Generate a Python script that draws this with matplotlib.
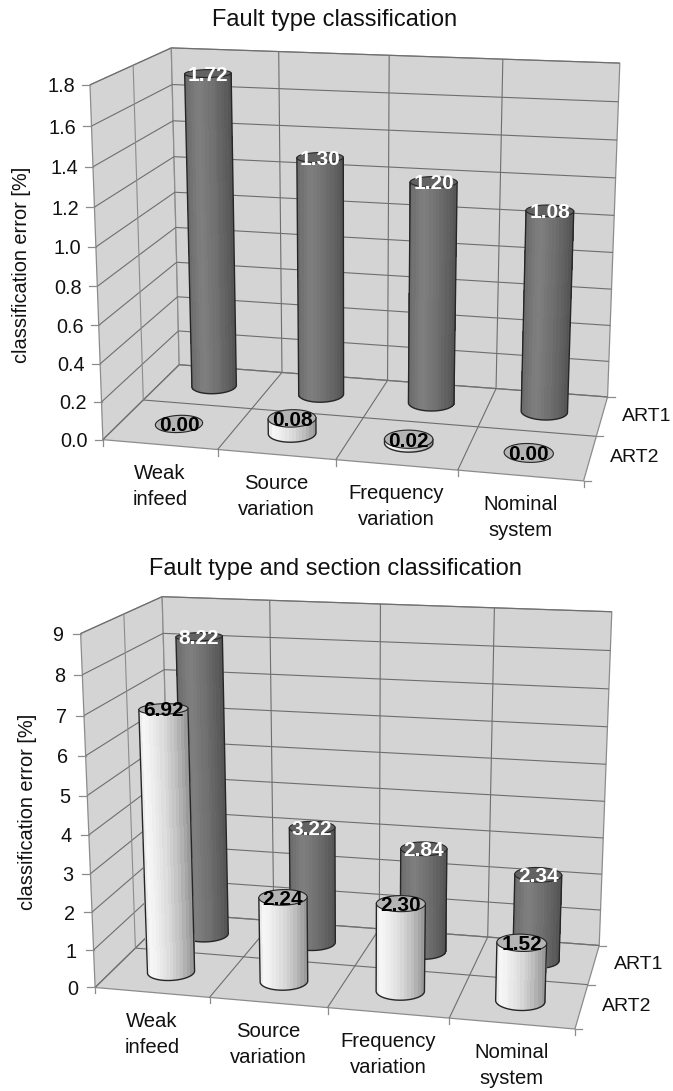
import numpy as np
import matplotlib
matplotlib.use("Agg")
from matplotlib import pyplot as plt

plt.rcParams['font.family'] = ['Liberation Sans', 'DejaVu Sans']

categories = ['Weak\ninfeed', 'Source\nvariation', 'Frequency\nvariation', 'Nominal\nsystem']
series_names = ['ART2', 'ART1']

top_title = 'Fault type classification'
top_art1 = [1.72, 1.30, 1.20, 1.08]
top_art2 = [0.00, 0.08, 0.02, 0.00]
top_ticks = [0.0, 0.2, 0.4, 0.6, 0.8, 1.0, 1.2, 1.4, 1.6, 1.8]
top_tick_labels = ['0.0', '0.2', '0.4', '0.6', '0.8', '1.0', '1.2', '1.4', '1.6', '1.8']

bottom_title = 'Fault type and section classification'
bottom_art1 = [8.22, 3.22, 2.84, 2.34]
bottom_art2 = [6.92, 2.24, 2.30, 1.52]
bottom_ticks = [0, 1, 2, 3, 4, 5, 6, 7, 8, 9]
bottom_tick_labels = ['0', '1', '2', '3', '4', '5', '6', '7', '8', '9']

WALL = '#d4d4d4'
GRID = '#6e6e6e'
EDGE = '#8c8c8c'
OUTLINE = '#262626'
BANDS = 14

# where the box corners sit in the figure: (category, series, share of height) -> pixel
top_box = [
    ((0, 0, 0), (103, 440)), ((0, 0, 1), (90, 84)), ((0, 2, 0), (179, 365)), ((0, 2, 1), (172, 48)),
    ((4, 2, 1), (620, 63)), ((4, 2, 0), (608, 397)), ((4, 0, 0), (583, 481)), ((0, 1, 0), (143, 399)),
    ((4, 1, 0), (596, 436)), ((0, 1, 1), (133, 66)), ((1, 0, 0), (218, 450)), ((2, 0, 0), (336, 460)),
    ((3, 0, 0), (458, 470)), ((1, 2, 1), (278, 51)), ((2, 2, 1), (389, 56)), ((3, 2, 1), (503, 59)),
]
bottom_box = [
    ((0, 0, 0), (95, 988)), ((0, 0, 1), (81, 633)), ((0, 2, 0), (170, 913)), ((0, 2, 1), (163, 597)),
    ((4, 2, 1), (612, 612)), ((4, 2, 0), (600, 946)), ((4, 0, 0), (575, 1028)), ((0, 1, 0), (137, 947)),
    ((4, 1, 0), (587, 984)), ((0, 1, 1), (123, 614)), ((1, 0, 0), (209, 998)), ((2, 0, 0), (328, 1008)),
    ((3, 0, 0), (449, 1019)), ((1, 2, 1), (269, 601)), ((2, 2, 1), (381, 603)), ((3, 2, 1), (494, 608)),
]


def fit_camera(box):
    rows = []
    for (x, y, z), (u, v) in box:
        u, v = u/1000, v/1000
        rows.append([x, y, z, 1, 0, 0, 0, 0, -u*x, -u*y, -u*z, -u])
        rows.append([0, 0, 0, 0, x, y, z, 1, -v*x, -v*y, -v*z, -v])
    vt = np.linalg.svd(np.array(rows, dtype=float))[2]
    return vt[-1].reshape(3, 4)


def project(cam, x, y, z):
    x, y, z = np.broadcast_arrays(x, y, z)
    pts = cam @ np.vstack([x.ravel(), y.ravel(), z.ravel(), np.ones(x.size)])
    return np.column_stack([pts[0]/pts[2], pts[1]/pts[2]])*1000


def line3d(ax, cam, a, b, color=GRID, lw=0.8):
    p = project(cam, [a[0], b[0]], [a[1], b[1]], [a[2], b[2]])
    ax.plot(p[:, 0], p[:, 1], color=color, lw=lw, solid_capstyle='butt', zorder=2)


def draw_box(ax, cam, zvals):
    walls = [
        [(0, 0, 0), (0, 2, 0), (0, 2, 1), (0, 0, 1)],
        [(0, 2, 0), (4, 2, 0), (4, 2, 1), (0, 2, 1)],
        [(0, 0, 0), (4, 0, 0), (4, 2, 0), (0, 2, 0)],
    ]
    for wall in walls:
        w = np.array(wall, dtype=float)
        p = project(cam, w[:, 0], w[:, 1], w[:, 2])
        ax.fill(p[:, 0], p[:, 1], facecolor=WALL, edgecolor=EDGE, lw=0.9, zorder=1)
    for z in zvals:
        line3d(ax, cam, (0, 0, z), (0, 2, z))
        line3d(ax, cam, (0, 2, z), (4, 2, z))
        p = project(cam, 0, 0, z)[0]
        ax.plot([p[0]-8, p[0]], [p[1], p[1]], color=EDGE, lw=0.9, zorder=2)
    for x in range(1, 4):
        line3d(ax, cam, (x, 2, 0), (x, 2, 1))
        line3d(ax, cam, (x, 0, 0), (x, 2, 0))
    line3d(ax, cam, (0, 1, 0), (0, 1, 1), color=EDGE)
    line3d(ax, cam, (0, 1, 0), (4, 1, 0))
    for x in range(5):
        p = project(cam, x, 0, 0)[0]
        ax.plot([p[0], p[0]], [p[1], p[1]+6], color=EDGE, lw=0.9, zorder=2)
    for y in range(3):
        p = project(cam, 4, y, 0)[0]
        ax.plot([p[0], p[0]+7], [p[1], p[1]], color=EDGE, lw=0.9, zorder=2)


def shade(frac, dark):
    if dark:
        return np.interp(frac, [0, 0.3, 0.6, 1], [0.42, 0.50, 0.44, 0.33])
    return np.interp(frac, [0, 0.12, 0.5, 0.75, 1], [0.90, 0.97, 0.86, 0.74, 0.58])


def draw_cylinder(ax, cam, cat, ser, share, dark, order):
    radius_x, radius_y = 0.2, 0.21
    t = np.linspace(0, 2*np.pi, 145)[:-1]
    cx = cat + 0.5 + radius_x*np.cos(t)
    cy = ser + 0.5 + radius_y*np.sin(t)
    low = project(cam, cx, cy, 0*t)
    high = project(cam, cx, cy, share + 0*t)
    left = np.argmin(low[:, 0])
    right = np.argmax(low[:, 0])
    # walk round the base from left to right by the side nearest the viewer
    step = 1 if low[(left+1) % 144, 1] > low[(left-1) % 144, 1] else -1
    arc = [left]
    while arc[-1] != right:
        arc.append((arc[-1]+step) % 144)
    arc = np.array(arc)
    if share > 0:
        frac = (low[arc, 0]-low[left, 0])/(low[right, 0]-low[left, 0])
        mid = (frac[:-1]+frac[1:])/2
        band = (np.floor(mid*BANDS)+0.5)/BANDS
        levels = shade(band, dark)
        mesh_x = np.vstack([high[arc, 0], low[arc, 0]])
        mesh_y = np.vstack([high[arc, 1], low[arc, 1]])
        ax.pcolormesh(mesh_x, mesh_y, levels[None, :], cmap='gray', vmin=0, vmax=1,
                      shading='flat', zorder=order)
        outline = np.vstack([high[left], low[arc], high[right]])
        ax.plot(outline[:, 0], outline[:, 1], color=OUTLINE, lw=1.0, zorder=order+0.1)
    cap = '#626262' if dark else '#b4b4b4'
    ax.fill(high[:, 0], high[:, 1], facecolor=cap, edgecolor=OUTLINE, lw=0.8, zorder=order+0.2)


def draw_chart(ax, box, title, title_y, art1, art2, ticks, tick_labels, label_x, label_y, tick_pad):
    cam = fit_camera(box)
    zmax = ticks[-1]
    draw_box(ax, cam, [v/zmax for v in ticks])

    order = 3
    for ser, values, dark in ((1, art1, True), (0, art2, False)):
        for cat, value in enumerate(values):
            draw_cylinder(ax, cam, cat, ser, value/zmax, dark, order)
            p = project(cam, cat+0.5, ser+0.5, value/zmax)[0]
            ax.text(p[0], p[1]+2, f'{value:.2f}', color='white' if dark else 'black', fontsize=15,
                    fontweight='bold', ha='center', va='center', zorder=50)
            order += 1

    for value, text in zip(ticks, tick_labels):
        p = project(cam, 0, 0, value/zmax)[0]
        ax.text(p[0]-tick_pad, p[1]+2, text, fontsize=14.3, ha='right', va='center', color='#111111')
    for cat, text in enumerate(categories):
        p = project(cam, cat+0.5, 0, 0)[0]
        ax.text(p[0], p[1]+42, text, fontsize=14.6, ha='center', va='center', color='#111111', linespacing=1.45)
    for ser, text in enumerate(series_names):
        p = project(cam, 4, ser+0.5, 0)[0]
        ax.text(p[0]+20, p[1], text, fontsize=14, ha='left', va='center', color='#111111')
    ax.text(335, title_y, title, fontsize=17, ha='center', va='center', color='#111111')
    ax.text(label_x, label_y, 'classification error [%]', fontsize=14.4, rotation=90,
            ha='center', va='center', color='#111111')


fig = plt.figure(figsize=(6.73, 10.91), dpi=100)
ax = fig.add_axes([0, 0, 1, 1])
ax.set_xlim(0, 673)
ax.set_ylim(1091, 0)
ax.axis('off')

draw_chart(ax, top_box, top_title, 20, top_art1, top_art2, top_ticks, top_tick_labels, 22, 265, 15)
draw_chart(ax, bottom_box, bottom_title, 569, bottom_art1, bottom_art2, bottom_ticks, bottom_tick_labels, 28, 812, 17)

fig.savefig('out.png', dpi=100)
